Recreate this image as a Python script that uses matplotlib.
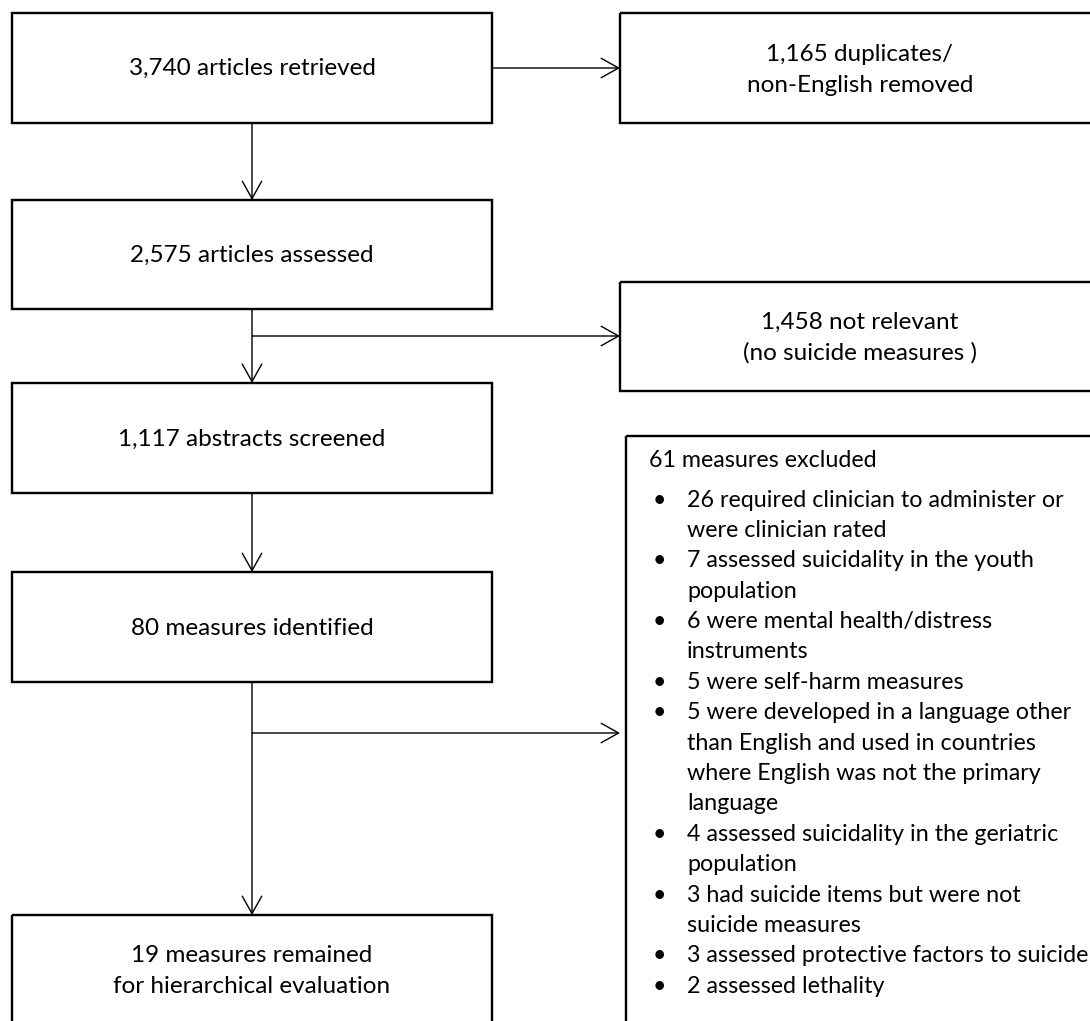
import matplotlib.pyplot as plt
from matplotlib.patches import Rectangle

# counts in the flow
main_counts = [3740, 2575, 1117, 80, 19]
main_labels = ["{:,} articles retrieved", "{:,} articles assessed",
               "{:,} abstracts screened", "{:,} measures identified",
               "{:,} measures remained\nfor hierarchical evaluation"]
side_counts = [1165, 1458]
side_labels = ["{:,} duplicates/\nnon-English removed",
               "{:,} not relevant\n(no suicide measures )"]
excluded_total = 61
excluded_counts = [26, 7, 6, 5, 5, 4, 3, 3, 2]
excluded_reasons = [
    "required clinician to administer or\nwere clinician rated",
    "assessed suicidality in the youth\npopulation",
    "were mental health/distress\ninstruments",
    "were self-harm measures",
    "were developed in a language other\nthan English and used in countries\nwhere English was not the primary\nlanguage",
    "assessed suicidality in the geriatric\npopulation",
    "had suicide items but were not\nsuicide measures",
    "assessed protective factors to suicide",
    "assessed lethality",
]

W, H = 1090, 1021
DPI = 100
px = 72 / DPI  # pixel -> point

plt.rcParams['font.family'] = ['Lato', 'DejaVu Sans']
FS_BOX = 24.2 * px
FS_LIST = 23.2 * px
LINE_H = 30.6

fig = plt.figure(figsize=(W / DPI, H / DPI), dpi=DPI)
ax = fig.add_axes([0, 0, 1, 1])
ax.set_xlim(0, W)
ax.set_ylim(H, 0)
ax.axis('off')

box_lw = 2.4 * px
arr_lw = 1.4 * px

# layout (pixels)
main_x0, main_x1 = 12, 492
main_y = [(13, 123), (200, 309), (383, 493), (572, 682), (915, 1040)]
main_text_y = [68, 255, 439, 628, 971]
cx = (main_x0 + main_x1) / 2

side_x0, side_x1 = 620, 1100
side_y = [(13, 123), (282, 391)]
side_text_y = [70, 338]


def arrow(x0, y0, x1, y1):
    ax.annotate('', xy=(x1, y1), xytext=(x0, y0),
                arrowprops=dict(arrowstyle='->,head_length=1.25,head_width=0.7',
                                lw=arr_lw, color='black',
                                shrinkA=0, shrinkB=0))


def centred_text(x, yc, s):
    lines = s.split("\n")
    top = yc - (len(lines) - 1) * LINE_H / 2
    for i, ln in enumerate(lines):
        ax.text(x, top + i * LINE_H, ln, ha='center', va='center',
                fontsize=FS_BOX)


for (y0, y1), ty, n, lab in zip(main_y, main_text_y, main_counts, main_labels):
    ax.add_patch(Rectangle((main_x0, y0), main_x1 - main_x0, y1 - y0,
                           fill=False, lw=box_lw, ec='black'))
    centred_text(cx, ty, lab.format(n))

for (y0, y1), ty, n, lab in zip(side_y, side_text_y, side_counts, side_labels):
    ax.add_patch(Rectangle((side_x0, y0), side_x1 - side_x0, y1 - y0,
                           fill=False, lw=box_lw, ec='black'))
    centred_text(860, ty, lab.format(n))

# excluded measures box
ex_x0, ex_y0 = 626, 436
ax.add_patch(Rectangle((ex_x0, ex_y0), 500, 700, fill=False, lw=box_lw,
                       ec='black'))
ax.text(649, 460, f"{excluded_total} measures excluded", ha='left',
        va='center', fontsize=FS_LIST)
y = 500
for n, reason in zip(excluded_counts, excluded_reasons):
    ax.text(653, y, "\u2022", ha='left', va='center', fontsize=FS_LIST)
    for ln in f"{n} {reason}".split("\n"):
        ax.text(687, y, ln, ha='left', va='center', fontsize=FS_LIST)
        y += LINE_H * 0.993

# arrows
arrow(main_x1, 68, side_x0, 68)
arrow(cx, 123, cx, 200)
arrow(cx, 309, cx, 383)
arrow(cx, 336, side_x0, 336)
arrow(cx, 493, cx, 572)
arrow(cx, 682, cx, 915)
arrow(cx, 733, side_x0, 733)

fig.savefig("out.png", dpi=DPI)
